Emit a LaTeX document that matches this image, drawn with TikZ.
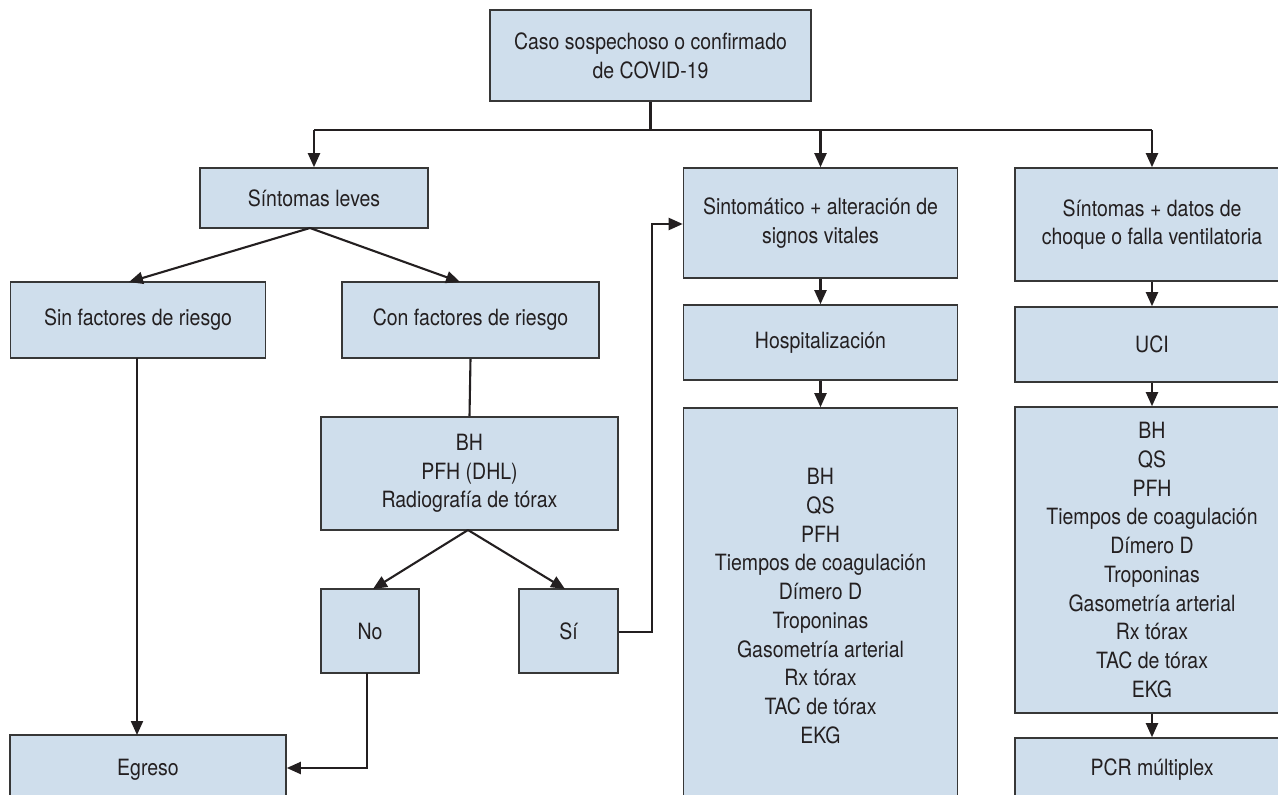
\documentclass[tikz,border=0pt]{standalone}
\usepackage{fontspec}
\setmainfont{TeX Gyre Heros}[FakeStretch=0.87]
\usetikzlibrary{arrows.meta}
\definecolor{boxfill}{RGB}{207,222,236}
\definecolor{boxline}{RGB}{55,55,55}
\definecolor{txt}{RGB}{35,31,32}
\begin{document}
\begin{tikzpicture}[x=1pt,y=-1pt,
  box/.style={draw=boxline, fill=boxfill, line width=1.6pt, inner sep=0pt,
    align=center, text=txt, font=\fontsize{22.4pt}{28.7pt}\selectfont},
  arr/.style={-{Triangle[length=14pt,width=12pt]}, line width=2.1pt, draw=txt},
  ln/.style={line width=2.1pt, draw=txt}]
\useasboundingbox (0,0) rectangle (1278,795);
\clip (0,0) rectangle (1278,795);
% nodes
\node[box, minimum width=321pt, minimum height=91pt] (top) at (650.5,55.5) {Caso sospechoso o confirmado\\de COVID-19};
\node[box, minimum width=228pt, minimum height=60pt] (leves) at (314,198) {Síntomas leves};
\node[box, minimum width=255pt, minimum height=76pt] (sin) at (138,320) {Sin factores de riesgo};
\node[box, minimum width=257pt, minimum height=76pt] (con) at (470.5,320) {Con factores de riesgo};
\node[box, minimum width=297pt, minimum height=113pt] (bh) at (469.5,473.5) {BH\\PFH (DHL)\\Radiografía de tórax};
\node[box, minimum width=98pt, minimum height=84pt] (no) at (370,631) {No};
\node[box, minimum width=99pt, minimum height=84pt] (si) at (568.5,631) {Sí};
\node[box, minimum width=276pt, minimum height=70pt] (egreso) at (148,770) {Egreso};
\node[box, minimum width=274pt, minimum height=110pt] (sinto) at (820.5,223) {Sintomático + alteración de\\signos vitales};
\node[box, minimum width=274pt, minimum height=75pt] (hosp) at (820.5,342.5) {Hospitalización};
\node[box, minimum width=274pt, minimum height=396pt] (lab1) at (820.5,606) {BH\\QS\\PFH\\Tiempos de coagulación\\Dímero D\\Troponinas\\Gasometría arterial\\Rx tórax\\TAC de tórax\\EKG};
\node[box, minimum width=274pt, minimum height=113pt] (datos) at (1152,224.5) {Síntomas + datos de\\choque o falla ventilatoria};
\node[box, minimum width=274pt, minimum height=75pt] (uci) at (1152,344.5) {UCI};
\node[box, minimum width=274pt, minimum height=306pt] (lab2) at (1152,560) {BH\\QS\\PFH\\Tiempos de coagulación\\Dímero D\\Troponinas\\Gasometría arterial\\Rx tórax\\TAC de tórax\\EKG};
\node[box, minimum width=274pt, minimum height=64pt] (pcr) at (1152,770) {PCR múltiplex};
% coordinates
\coordinate (bus) at (650.5,130);
\coordinate (busL) at (314,130);
\coordinate (busM) at (820.5,130);
\coordinate (busR) at (1152,130);
\coordinate (levesB) at (310,228);
\coordinate (bhB) at (468,530);
\coordinate (noB) at (367,673);
\coordinate (noC) at (367,768);
\coordinate (siR) at (652,632);
\coordinate (siU) at (652,224);
% connectors
\draw[ln] (top.south) -- (bus);
\draw[ln] (busL) -- (busR);
\draw[arr] (busL) -- (leves.north);
\draw[arr] (busM) -- (sinto.north);
\draw[arr] (busR) -- (datos.north);
\draw[arr] (levesB) -- (129,282);
\draw[arr] (levesB) -- (460,282);
\draw[arr] (137,358) -- (137,735);
\draw[ln] (con.south) -- (bh.north);
\draw[arr] (bhB) -- (373,589);
\draw[arr] (bhB) -- (565,589);
\draw[arr] (noB) -- (noC) -- (egreso.east |- noC);
\draw[arr] (si.east |- siR) -- (siR) -- (siU) -- (sinto.west |- siU);
\draw[arr] (sinto.south) -- (hosp.north);
\draw[arr] (hosp.south) -- (lab1.north);
\draw[arr] (datos.south) -- (uci.north);
\draw[arr] (uci.south) -- (lab2.north);
\draw[arr] (lab2.south) -- (pcr.north);
\end{tikzpicture}
\end{document}
